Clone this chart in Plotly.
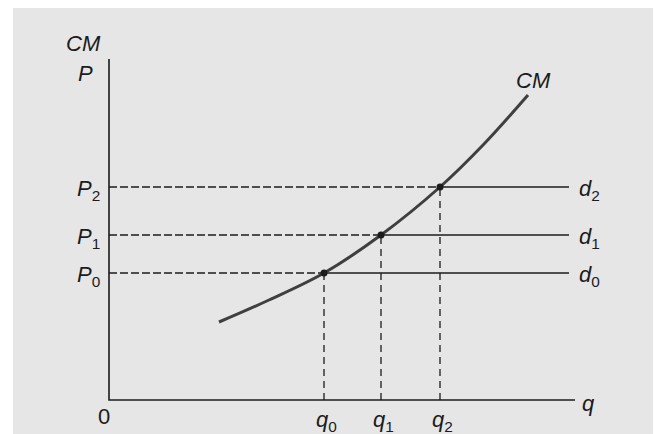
import plotly.graph_objects as go

# ---- data (economic diagram, arbitrary units) ----
q_names = ["q", "q", "q"]
q_subs = ["0", "1", "2"]
q_vals = [21.5, 27.2, 33.1]          # quantities at intersections
p_subs = ["0", "1", "2"]
p_vals = [12.7, 16.5, 21.3]          # price levels P0, P1, P2
d_subs = ["0", "1", "2"]
cm_x = [11.0, 16.0, 21.5, 27.2, 33.1, 37.5, 41.9]   # marginal cost curve
cm_y = [7.8, 10.0, 12.7, 16.5, 21.3, 25.6, 30.5]
x_axis_end = 46.6
y_axis_top = 34.1
d_end = 46.0

BG = "#e6e6e6"
INK = "#1c1c1c"
CURVE = "#3f3f3f"
FONT = "Liberation Sans, Arial, sans-serif"

fig = go.Figure()

# dashed guide lines
for q, p in zip(q_vals, p_vals):
    fig.add_trace(go.Scatter(x=[0, q], y=[p, p], mode="lines",
                             line=dict(color=INK, width=1.3, dash="8px,3px"),
                             hoverinfo="skip", showlegend=False))
    fig.add_trace(go.Scatter(x=[q, q], y=[0, p], mode="lines",
                             line=dict(color=INK, width=1.3, dash="7px,5px"),
                             hoverinfo="skip", showlegend=False))
    # solid demand lines d
    fig.add_trace(go.Scatter(x=[q, d_end], y=[p, p], mode="lines",
                             line=dict(color=INK, width=1.4),
                             hoverinfo="skip", showlegend=False))

# axes
fig.add_trace(go.Scatter(x=[0, 0, x_axis_end], y=[y_axis_top, 0, 0], mode="lines",
                         line=dict(color=INK, width=1.6),
                         hoverinfo="skip", showlegend=False))

# CM curve
fig.add_trace(go.Scatter(x=cm_x, y=cm_y, mode="lines",
                         line=dict(color=CURVE, width=3, shape="spline", smoothing=1.0),
                         hoverinfo="skip", showlegend=False))

# intersection dots
fig.add_trace(go.Scatter(x=q_vals, y=p_vals, mode="markers",
                         marker=dict(color=INK, size=7),
                         hoverinfo="skip", showlegend=False))

ann = []
fs = 22
def add(text, x, y, xa="center", ya="middle", xs=0, ys=0):
    ann.append(dict(text=text, x=x, y=y, xref="x", yref="y", showarrow=False,
                    xanchor=xa, yanchor=ya, xshift=xs, yshift=ys,
                    font=dict(family=FONT, size=fs, color=INK)))

add("<i>CM</i>", -2.6, 35.7)
add("<i>P</i>", -2.4, 32.7)
for s, p in zip(p_subs, p_vals):
    add("<i>P</i><sub>%s</sub>" % s, -0.7, p, xa="right", ys=-3)
for s, p in zip(d_subs, p_vals):
    add("<i>d</i><sub>%s</sub>" % s, d_end + 0.8, p, xa="left", ys=-3)
for n, s, q in zip(q_names, q_subs, q_vals):
    add("<i>%s</i><sub>%s</sub>" % (n, s), q, -2.6, xs=2, ys=5)
add("0", -0.5, -1.6)
add("<i>q</i>", x_axis_end + 1.3, -0.3)
add("<i>CM</i>", cm_x[-1] + 0.5, cm_y[-1] + 1.5)

# the page adds an 8px body margin, so the figure is offset accordingly
fig.update_layout(
    width=653, height=426,
    margin=dict(l=5, r=0, t=0, b=0),
    paper_bgcolor="white", plot_bgcolor=BG,
    xaxis=dict(range=[-9.6, 55.2], visible=False, fixedrange=True),
    yaxis=dict(range=[-3.4, 39.2], visible=False, fixedrange=True),
    annotations=ann,
    showlegend=False,
)

fig.write_html("out.html")
